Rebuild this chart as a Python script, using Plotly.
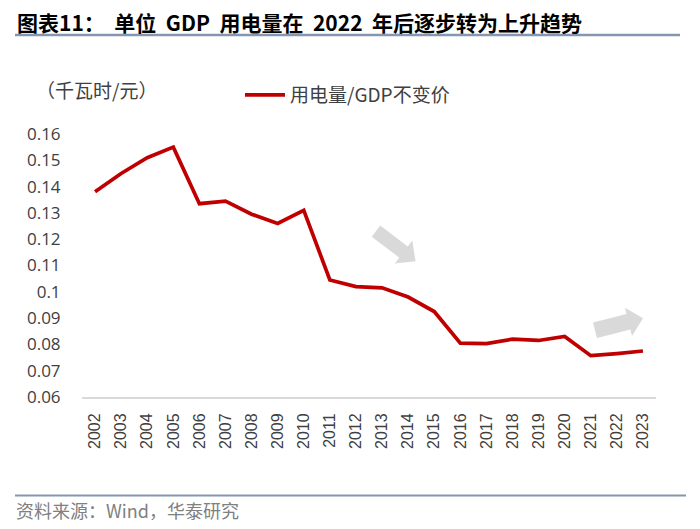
import plotly.graph_objects as go
import math

years = [str(y) for y in range(2002, 2024)]
values = [0.138, 0.145, 0.151, 0.155, 0.1335, 0.1345, 0.1295, 0.126, 0.131,
          0.1045, 0.102, 0.1015, 0.098, 0.0925, 0.0805, 0.0803, 0.082, 0.0815,
          0.083, 0.0757, 0.0765, 0.0775]
series_name = "用电量/GDP不变价"
title_text = "图表11：  单位  GDP  用电量在  2022  年后逐步转为上升趋势"
unit_text = "（千瓦时/元）"
source_text = "资料来源：Wind，华泰研究"
tick_vals = [0.06, 0.07, 0.08, 0.09, 0.1, 0.11, 0.12, 0.13, 0.14, 0.15, 0.16]
tick_text = ["0.06", "0.07", "0.08", "0.09", "0.1", "0.11", "0.12", "0.13", "0.14", "0.15", "0.16"]

OFF = 8  # page body margin
W, H = 692, 521
L, R = 82 - OFF, 656 - OFF
T, B = 134 - OFF, 396.7 - OFF

def px(x):
    return (x - OFF - L) / (R - L)

def py(y):
    return (B - (y - OFF)) / (B - T)

def arrow_path(tail, tip, body_half, head_half, head_len):
    dx, dy = tip[0] - tail[0], tip[1] - tail[1]
    ln = math.hypot(dx, dy)
    ux, uy = dx / ln, dy / ln
    nx, ny = -uy, ux
    bx, by = tip[0] - ux * head_len, tip[1] - uy * head_len
    pts = [
        (tail[0] + nx * body_half, tail[1] + ny * body_half),
        (bx + nx * body_half, by + ny * body_half),
        (bx + nx * head_half, by + ny * head_half),
        tip,
        (bx - nx * head_half, by - ny * head_half),
        (bx - nx * body_half, by - ny * body_half),
        (tail[0] - nx * body_half, tail[1] - ny * body_half),
    ]
    return "M " + " L ".join(f"{px(x):.5f},{py(y):.5f}" for x, y in pts) + " Z"

fig = go.Figure()
fig.add_trace(go.Scatter(
    x=years, y=values, mode="lines", name=series_name,
    line=dict(color="#c00000", width=3.7),
))

shapes = [
    dict(type="line", xref="paper", yref="paper", x0=px(15), x1=px(680), y0=py(35), y1=py(35),
         line=dict(color="#8497b0", width=2.5)),
    dict(type="line", xref="paper", yref="paper", x0=px(15), x1=px(686), y0=py(495), y1=py(495),
         line=dict(color="#8497b0", width=2)),
    dict(type="path", xref="paper", yref="paper",
         path=arrow_path((376, 231), (415.5, 261), 7, 14.5, 15),
         fillcolor="#d9d9d9", line=dict(width=0)),
    dict(type="path", xref="paper", yref="paper",
         path=arrow_path((595, 330), (643, 318), 8, 14.5, 15),
         fillcolor="#d9d9d9", line=dict(width=0)),
]

annotations = [
    dict(text=f"<b>{title_text}</b>", xref="paper", yref="paper", x=px(15), y=py(22.5),
         xanchor="left", yanchor="middle", showarrow=False,
         font=dict(family="Noto Sans CJK SC", size=21, color="#000000")),
    dict(text=unit_text, xref="paper", yref="paper", x=px(34), y=py(90),
         xanchor="left", yanchor="middle", showarrow=False,
         font=dict(family="Noto Sans CJK SC", size=19, color="#404040")),
    dict(text=source_text, xref="paper", yref="paper", x=px(14), y=py(510),
         xanchor="left", yanchor="middle", showarrow=False,
         font=dict(family="Noto Sans CJK SC", size=18, color="#808080")),
]

fig.update_layout(
    width=W, height=H,
    margin=dict(l=L, r=W - R, t=T, b=H - B, pad=0),
    paper_bgcolor="white", plot_bgcolor="white",
    showlegend=True,
    legend=dict(x=px(240), y=py(95), xanchor="left", yanchor="middle",
                font=dict(family="Noto Sans CJK SC", size=19, color="#404040"),
                bgcolor="rgba(0,0,0,0)", itemwidth=40),
    shapes=shapes, annotations=annotations,
)
fig.update_xaxes(
    type="category", range=[-0.5, 21.5], showgrid=False, showline=True,
    linecolor="#d9d9d9", linewidth=2, tickangle=-90, ticks="outside", ticklen=8,
    tickcolor="rgba(0,0,0,0)",
    tickfont=dict(family="Liberation Sans", size=16, color="#404040"),
)
fig.update_yaxes(
    range=[0.06, 0.16], tickvals=tick_vals, ticktext=tick_text, showgrid=False,
    showline=False, zeroline=False, ticks="outside", ticklen=17, tickcolor="rgba(0,0,0,0)",
    tickfont=dict(family="Open Sans", size=17, color="#404040"),
)
fig.write_html("out.html")
